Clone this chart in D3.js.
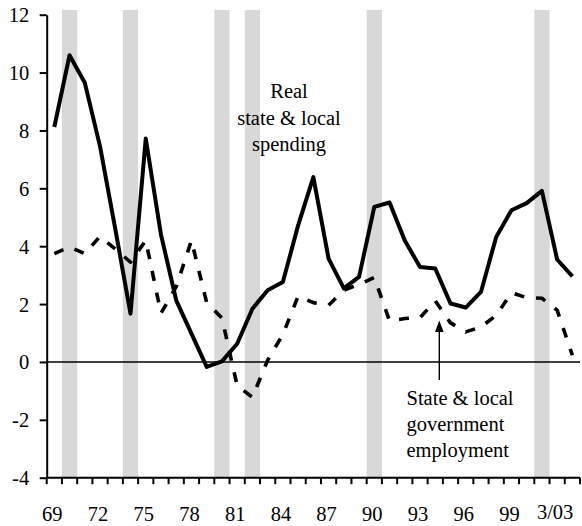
<!DOCTYPE html>
<html>
<head>
<meta charset="utf-8">
<script src="https://cdn.jsdelivr.net/npm/d3@7/dist/d3.min.js"></script>
<style>
  html, body { margin: 0; padding: 0; background: #fff; }
  svg { display: block; }
</style>
</head>
<body>
<script>
// ---- Data ----
const years = d3.range(1969, 2004); // 1969 .. 2003 (last point = 3/03)
const spending = [8.12, 10.6, 9.65, 7.45, 4.6, 1.67, 7.72, 4.4, 2.13, 0.98,
  -0.17, 0.02, 0.63, 1.84, 2.48, 2.76, 4.72, 6.39, 3.57, 2.54,
  2.94, 5.36, 5.51, 4.2, 3.28, 3.23, 2.02, 1.88, 2.42, 4.32,
  5.24, 5.49, 5.91, 3.54, 2.96];
const employment = [3.74, 3.97, 3.74, 4.34, 3.9, 3.45, 4.2, 1.68, 2.6, 4.2,
  2.05, 1.52, -0.82, -1.22, 0.06, 0.95, 2.27, 2.05, 1.96, 2.48,
  2.68, 2.92, 1.42, 1.5, 1.53, 2.11, 1.35, 1.04, 1.21, 1.61,
  2.39, 2.22, 2.2, 1.79, 0.23];
const recessionYears = [1970, 1974, 1980, 1982, 1990, 2001];
const yTicks = [-4, -2, 0, 2, 4, 6, 8, 10, 12];
const xTickYears = [1969, 1972, 1975, 1978, 1981, 1984, 1987, 1990, 1993, 1996, 1999, 2002];
const xTickLabels = ["69", "72", "75", "78", "81", "84", "87", "90", "93", "96", "99", "3/03"];

// ---- Layout ----
const W = 582, H = 526;
const mLeft = 46.7, mRight = 580, mTop = 14.7, mBottom = 477.7, plotTop = 10;
const fontSize = 20.5;
const FONT = "'Liberation Serif', Tinos, 'Times New Roman', Times, 'Nimbus Roman', 'DejaVu Serif', serif";

const svg = d3.select("body").append("svg").attr("width", W).attr("height", H)
  .attr("font-family", FONT);

const x = d3.scaleBand().domain(years).range([mLeft, mRight]).padding(0);
const y = d3.scaleLinear().domain([-4, 12]).range([mBottom, mTop]);
const cx = d => x(d) + x.bandwidth() / 2;

// Recession bars
svg.append("g").selectAll("rect").data(recessionYears).join("rect")
  .attr("x", d => x(d)).attr("width", x.bandwidth())
  .attr("y", plotTop).attr("height", y(-4) - plotTop)
  .attr("fill", "#d8d8d8");

// Zero line
svg.append("line")
  .attr("x1", mLeft).attr("x2", mRight).attr("y1", y(0)).attr("y2", y(0))
  .attr("stroke", "#000").attr("stroke-width", 1.5);

// Left axis
const yAxis = d3.axisLeft(y).tickValues(yTicks).tickSize(7).tickPadding(11).tickSizeOuter(0)
  .tickFormat(d => String(d));
const gy = svg.append("g").attr("transform", `translate(${mLeft},0)`).call(yAxis);
gy.attr("font-family", FONT).attr("font-size", fontSize);
gy.select(".domain").attr("stroke", "#000").attr("stroke-width", 2);
gy.selectAll(".tick line").attr("stroke", "#000").attr("stroke-width", 2);
gy.selectAll(".tick text").attr("font-size", fontSize).attr("font-family", FONT)
  .attr("fill", "#000").attr("dy", "0.34em").attr("x", -17.5);

// Bottom axis: line, ticks at category boundaries, labels every 3
svg.append("line")
  .attr("x1", mLeft).attr("x2", mRight).attr("y1", y(-4)).attr("y2", y(-4))
  .attr("stroke", "#000").attr("stroke-width", 2);
const boundaries = [x(years[0])].concat(years.map(d => x(d) + x.bandwidth()));
svg.append("g").selectAll("line").data(boundaries).join("line")
  .attr("x1", d => d).attr("x2", d => d)
  .attr("y1", y(-4)).attr("y2", y(-4) + 6.5)
  .attr("stroke", "#000").attr("stroke-width", 2);
svg.append("g").selectAll("text").data(xTickYears).join("text")
  .attr("x", d => cx(d) - 2)
  .attr("y", (d, i) => xTickLabels[i].length > 2 ? 518.5 : 521)
  .attr("text-anchor", "middle")
  .attr("font-size", fontSize).attr("font-family", FONT)
  .text((d, i) => xTickLabels[i]);

// Lines
const lineGen = vals => d3.line().x((d, i) => cx(years[i])).y(d => y(d))(vals);
svg.append("path").attr("d", lineGen(employment))
  .attr("fill", "none").attr("stroke", "#000").attr("stroke-width", 3.6)
  .attr("stroke-dasharray", "10,12").attr("stroke-linejoin", "round");
svg.append("path").attr("d", lineGen(spending))
  .attr("fill", "none").attr("stroke", "#000").attr("stroke-width", 4)
  .attr("stroke-linejoin", "round");

// Annotations
const ann1 = svg.append("text").attr("text-anchor", "middle").attr("font-size", fontSize).attr("font-family", FONT);
[["Real", 98], ["state & local", 124.5], ["spending", 151]].forEach(([t, yy]) => {
  ann1.append("tspan").attr("x", 289).attr("y", yy).text(t);
});
const ann2 = svg.append("text").attr("text-anchor", "start").attr("font-size", fontSize).attr("font-family", FONT);
[["State & local", 404.5], ["government", 430.5], ["employment", 456.5]].forEach(([t, yy]) => {
  ann2.append("tspan").attr("x", 406.5).attr("y", yy).text(t);
});
// Arrow
svg.append("line").attr("x1", 439.3).attr("x2", 439.3).attr("y1", 380).attr("y2", 330)
  .attr("stroke", "#000").attr("stroke-width", 1.4);
svg.append("path").attr("d", "M439.3,320.5 L435,332 L443.6,332 Z").attr("fill", "#000");
</script>
</body>
</html>
